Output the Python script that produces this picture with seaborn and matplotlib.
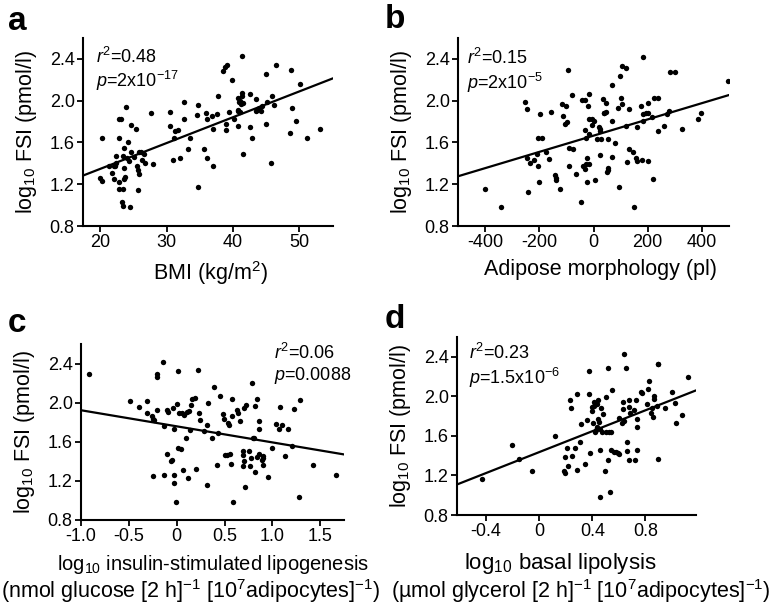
import matplotlib
matplotlib.use("Agg")
import matplotlib.pyplot as plt
import seaborn as sns
import pandas as pd

# ---------------- data ----------------
# Panel a: BMI vs log10 FSI
a_bmi = [20.0, 20.25, 20.25, 21.26, 21.76, 22.01, 22.01, 22.26, 22.36, 22.41, 22.76, 22.76, 22.86, 22.86,
         23.12, 23.27, 23.37, 23.42, 23.42, 23.52, 23.52, 23.62, 23.77, 23.87, 24.02, 24.12, 24.27, 24.52,
         24.62, 24.67, 25.03, 25.43, 25.53, 25.63, 25.68, 25.78, 25.83, 26.13, 26.28, 26.53, 26.68, 27.64,
         27.94, 30.45, 30.45, 30.95, 31.16, 31.31, 31.71, 31.96, 32.66, 32.66, 33.17, 33.57, 34.57, 34.67,
         34.77, 35.58, 35.88, 36.08, 36.08, 36.83, 36.93, 36.98, 37.59, 37.69, 38.49, 38.74, 38.94, 38.94,
         39.10, 39.35, 39.90, 40.10, 40.70, 40.70, 40.75, 40.75, 40.85, 41.01, 41.11, 41.21, 41.31, 41.36,
         41.41, 41.46, 41.56, 42.51, 42.56, 42.96, 43.42, 43.47, 43.62, 43.87, 44.22, 44.37, 44.97, 45.03,
         45.13, 45.68, 45.88, 46.13, 46.48, 48.64, 48.79, 48.99, 49.45, 50.05, 51.16, 53.12]
a_fsi = [1.26, 1.23, 1.64, 1.37, 1.31, 1.37, 1.25, 1.37, 1.47, 1.40, 1.82, 1.64, 1.22, 1.15,
         1.82, 1.03, 0.99, 1.15, 1.47, 1.55, 1.25, 1.36, 1.27, 1.94, 1.45, 1.60, 1.42, 0.98,
         1.51, 1.77, 1.46, 1.73, 1.37, 1.14, 1.34, 1.30, 1.51, 1.51, 1.43, 1.49, 1.40, 1.88,
         1.39, 1.89, 1.76, 1.43, 1.64, 1.71, 1.72, 1.45, 1.99, 1.82, 1.54, 1.64, 1.86, 1.96,
         1.17, 1.54, 1.88, 1.82, 1.45, 1.85, 1.37, 1.73, 1.87, 2.04, 2.28, 2.32, 1.72, 1.78,
         2.34, 1.89, 2.20, 1.82, 1.76, 1.90, 1.91, 2.03, 1.99, 2.00, 1.89, 1.97, 2.04, 2.43,
         2.07, 1.98, 1.49, 2.06, 1.75, 1.64, 2.02, 1.90, 1.91, 1.93, 1.90, 1.95, 2.26, 1.78,
         1.99, 1.40, 2.04, 1.96, 2.34, 1.69, 2.29, 1.93, 1.81, 2.16, 1.64, 1.73]

# Panel b: adipose morphology vs log10 FSI
b_morph = [-401, -340, -254, -245, -245, -243, -236, -218, -209, -205, -201, -205, -196, -189, -175,
           -164, -157, -141, -139, -139, -123, -118, -113, -104, -102, -98, -93, -92, -92, -74, -79,
           -63, -45, -43, -37, -32, -33, -31, -29, -27, -25, -23, -21, -18, -18, -18, -15, -6, -6,
           2, 6, 13, 22, 23, 25, 25, 29, 34, 37, 39, 45, 45, 49, 53, 55, 55, 69, 69, 70, 81, 92, 94,
           98, 103, 104, 107, 119, 121, 123, 131, 131, 147, 150, 161, 158, 160, 177, 183, 184, 179,
           183, 193, 200, 202, 202, 216, 218, 222, 239, 239, 261, 270, 279, 282, 301, 326, 384, 398, 497]
b_fsi = [1.15, 0.98, 1.99, 1.92, 1.45, 1.13, 1.40, 1.43, 1.49, 1.37, 1.22, 1.64, 1.87, 1.64, 1.51,
         1.44, 1.89, 1.29, 1.26, 1.24, 1.15, 1.97, 1.85, 1.78, 1.95, 1.80, 2.29, 1.37, 1.55, 1.54, 2.05,
         1.30, 1.03, 2.01, 1.37, 2.01, 1.72, 1.35, 1.64, 1.39, 1.45, 1.22, 1.95, 2.06, 1.39, 1.68, 1.82, 1.82, 1.77,
         1.81, 1.24, 1.63, 1.75, 1.73, 1.71, 1.48, 1.63, 2.02, 1.88, 1.88, 1.89, 1.98, 1.32, 1.34, 1.63, 1.36,
         1.81, 1.46, 2.15, 1.59, 1.93, 1.17, 2.24, 2.03, 2.33, 1.97, 2.31, 1.76, 1.41, 1.92, 1.54, 1.51, 0.98,
         1.75, 1.45, 1.42, 1.95, 2.42, 1.87, 1.43, 1.81, 1.88, 1.88, 1.98, 1.42, 1.84, 1.25, 2.03, 2.03, 1.71,
         1.76, 1.87, 1.90, 2.27, 2.27, 1.73, 1.82, 1.88, 2.19]

# Panel c: log10 insulin-stimulated lipogenesis vs log10 FSI
c_lipo = [-0.913, -0.493, -0.392, -0.306, -0.306, -0.260, -0.247, -0.243, -0.233, -0.208, -0.208, -0.208,
          -0.139, -0.132, -0.128, -0.104, -0.097, -0.087, -0.059, -0.049, -0.038, -0.031, -0.024, -0.024,
          -0.007, 0.007, 0.017, 0.017, 0.024, 0.042, 0.059, 0.069, 0.076, 0.094, 0.104, 0.115, 0.125, 0.135,
          0.146, 0.160, 0.191, 0.201, 0.226, 0.236, 0.240, 0.285, 0.316, 0.326, 0.319, 0.372, 0.392, 0.417,
          0.434, 0.451, 0.486, 0.497, 0.500, 0.521, 0.538, 0.545, 0.559, 0.563, 0.580, 0.573, 0.587, 0.625,
          0.639, 0.660, 0.688, 0.688, 0.694, 0.701, 0.705, 0.708, 0.726, 0.750, 0.764, 0.774, 0.792, 0.788,
          0.806, 0.816, 0.816, 0.837, 0.840, 0.854, 0.854, 0.861, 0.892, 0.896, 0.903, 0.906, 0.948, 0.997,
          1.038, 1.076, 1.066, 1.097, 1.132, 1.163, 1.205, 1.222, 1.278, 1.292, 1.424, 1.660]
c_fsi = [2.29, 2.02, 1.96, 2.02, 1.89, 1.86, 1.83, 1.25, 1.82, 2.29, 2.26, 1.93,
         2.42, 1.76, 1.26, 1.48, 1.93, 1.90, 1.40, 1.41, 1.95, 1.18, 1.73, 1.26,
         0.98, 1.99, 2.32, 1.54, 1.89, 1.53, 1.89, 1.31, 1.87, 1.64, 1.90, 1.23, 1.91, 1.72,
         1.98, 2.04, 2.05, 1.32, 2.33, 1.89, 1.82, 1.71, 1.16, 2.00, 1.77, 1.64, 2.16, 1.36,
         1.69, 2.07, 1.88, 1.83, 1.46, 1.46, 1.79, 1.77, 1.47, 1.37, 2.04, 1.86, 0.98, 1.92,
         1.89, 1.81, 1.51, 1.46, 1.35, 1.40, 1.95, 1.14, 1.98, 1.51, 1.35, 1.43, 1.64, 2.20,
         1.64, 1.97, 1.29, 2.04, 1.44, 1.81, 1.73, 1.48, 1.41, 1.36, 1.45, 1.43, 1.24, 1.54,
         1.78, 1.96, 1.73, 1.77, 1.45, 1.73, 1.56, 1.94, 1.04, 2.03, 1.36, 1.26]

# Panel d: log10 basal lipolysis vs log10 FSI
d_lipol = [-0.428, -0.206, -0.153, -0.058, 0.121, 0.186, 0.191, 0.196, 0.211, 0.214, 0.231, 0.236, 0.249,
           0.269, 0.284, 0.287, 0.304, 0.312, 0.345, 0.357, 0.372, 0.375, 0.382, 0.395, 0.400, 0.408, 0.413,
           0.415, 0.423, 0.425, 0.433, 0.438, 0.440, 0.445, 0.450, 0.455, 0.458, 0.460, 0.468, 0.476, 0.483,
           0.493, 0.501, 0.506, 0.516, 0.518, 0.526, 0.531, 0.538, 0.541, 0.546, 0.564, 0.579, 0.591, 0.601,
           0.604, 0.621, 0.629, 0.629, 0.637, 0.642, 0.654, 0.659, 0.664, 0.677, 0.679, 0.679, 0.684, 0.717,
           0.725, 0.730, 0.735, 0.737, 0.740, 0.770, 0.775, 0.810, 0.818, 0.830, 0.845, 0.850, 0.855, 0.868,
           0.868, 0.886, 0.893, 0.898, 0.898, 0.949, 1.004, 1.021, 1.034, 1.074, 1.122]
d_fsi = [1.16, 1.51, 1.37, 1.24, 1.60, 1.24, 1.22, 1.39, 1.48, 1.30, 1.96, 1.88, 1.40,
         1.48, 1.26, 2.02, 1.54, 1.72, 1.32, 1.76, 2.02, 2.26, 1.43, 1.85, 1.89, 1.73, 1.90,
         1.94, 1.64, 1.66, 1.92, 1.69, 1.77, 1.96, 1.74, 1.67, 1.46, 0.98, 1.88, 1.64, 1.82,
         1.24, 1.99, 1.64, 1.36, 2.29, 1.64, 1.03, 1.46, 1.64, 2.06, 1.44, 1.44, 1.43, 1.42,
         1.78, 1.73, 1.87, 1.94, 1.75, 2.43, 2.29, 1.45, 1.54, 1.96, 1.89, 1.36, 1.83, 1.86,
         1.36, 1.96, 1.69, 1.77, 1.46, 2.04, 2.03, 1.92, 2.07, 2.16, 1.83, 1.88, 1.79, 2.00,
         1.97, 1.90, 2.33, 2.33, 1.37, 1.88, 2.04, 1.93, 1.73, 1.81, 2.20]

# Regression lines (slope, intercept) as drawn in the figure
fit_a = (0.0247, 0.853)
fit_b = (0.000778, 1.665)
fit_c = (-0.1645, 1.758)
fit_d = (0.528, 1.436)

# Statistics annotations
stats_a = ("0.48", "2x10$^{-17}$")
stats_b = ("0.15", "2x10$^{-5}$")
stats_c = ("0.06", "0.0088")
stats_d = ("0.23", "1.5x10$^{-6}$")

# Tick values / labels
y_ticks = [0.8, 1.2, 1.6, 2.0, 2.4]
y_ticklabels = ["0.8", "1.2", "1.6", "2.0", "2.4"]
a_xticks = [20, 30, 40, 50]
a_xticklabels = ["20", "30", "40", "50"]
b_xticks = [-400, -200, 0, 200, 400]
b_xticklabels = ["-400", "-200", "0", "200", "400"]
c_xticks = [-1.0, -0.5, 0, 0.5, 1.0, 1.5]
c_xticklabels = ["-1.0", "-0.5", "0", "0.5", "1.0", "1.5"]
d_xticks = [-0.4, 0, 0.4, 0.8]
d_xticklabels = ["-0.4", "0", "0.4", "0.8"]

ylabel = "log$_{10}$ FSI (pmol/l)"
a_xlabel = ["BMI (kg/m$^{2}$)"]
b_xlabel = ["Adipose morphology (pl)"]
c_xlabel = ["log$_{10}$ insulin-stimulated lipogenesis",
            "(nmol glucose [2 h]$^{-1}$ [10$^{7}$adipocytes]$^{-1}$)"]
d_xlabel = ["log$_{10}$ basal lipolysis",
            "(µmol glycerol [2 h]$^{-1}$ [10$^{7}$adipocytes]$^{-1}$)"]

# ---------------- style ----------------
sns.set_style("ticks")
plt.rcParams.update({
    "font.family": ["Liberation Sans", "DejaVu Sans"],
    "mathtext.fontset": "custom",
    "mathtext.rm": "Liberation Sans",
    "mathtext.it": "Liberation Sans:italic",
    "mathtext.default": "regular",
    "axes.unicode_minus": False,
    "axes.linewidth": 1.5,
    "xtick.major.width": 1.3,
    "ytick.major.width": 1.3,
    "xtick.major.size": 4,
    "ytick.major.size": 4,
    "xtick.major.pad": 2,
    "ytick.major.pad": 2,
    "xtick.labelsize": 13,
    "ytick.labelsize": 13,
    "axes.labelsize": 15.5,
    "text.color": "black",
    "axes.labelcolor": "black",
    "xtick.color": "black",
    "ytick.color": "black",
    "axes.edgecolor": "black",
})

W, H = 776, 607
fig = plt.figure(figsize=(W / 100, H / 100), dpi=100)

def rect(l, t, r, b):
    return [l / W, 1 - b / H, (r - l) / W, (b - t) / H]

# label lines: (text, center x px, center y px, fontsize)
panels = [
    dict(letter="a", rect=rect(83, 38, 333, 226), x=a_bmi, y=a_fsi, fit=fit_a, xlim=(17.4, 55.1),
         xticks=a_xticks, xtl=a_xticklabels, stats=stats_a, tx=0.05, ty=0.955, letter_xy=(8, 6),
         xl=[(a_xlabel[0], 210, 273, 15.5)]),
    dict(letter="b", rect=rect(458, 38, 729, 226), x=b_morph, y=b_fsi, fit=fit_b, xlim=(-500, 500),
         xticks=b_xticks, xtl=b_xticklabels, stats=stats_b, tx=0.035, ty=0.945, letter_xy=(385, 4),
         xl=[(b_xlabel[0], 600, 270, 15.5)]),
    dict(letter="c", rect=rect(81, 344, 344, 520), x=c_lipo, y=c_fsi, fit=fit_c, xlim=(-1.0, 1.747),
         xticks=c_xticks, xtl=c_xticklabels, stats=stats_c, tx=0.735, ty=1.005, letter_xy=(8, 308),
         xl=[(c_xlabel[0], 213, 564, 14.5), (c_xlabel[1], 191, 591, 15.5)]),
    dict(letter="d", rect=rect(457, 337, 696, 515), x=d_lipol, y=d_fsi, fit=fit_d, xlim=(-0.62, 1.182),
         xticks=d_xticks, xtl=d_xticklabels, stats=stats_d, tx=0.05, ty=0.965, letter_xy=(385, 304),
         xl=[(d_xlabel[0], 560, 564, 16), (d_xlabel[1], 581, 591, 15.5)]),
]

for p in panels:
    ax = fig.add_axes(p["rect"])
    df = pd.DataFrame({"x": p["x"], "y": p["y"]})
    sns.scatterplot(data=df, x="x", y="y", ax=ax, color="black", s=15, linewidth=0, zorder=3)
    slope, intercept = p["fit"]
    x0, x1 = p["xlim"]
    line = pd.DataFrame({"x": [x0, x1], "y": [intercept + slope * x0, intercept + slope * x1]})
    sns.lineplot(data=line, x="x", y="y", ax=ax, color="black", linewidth=1.6, zorder=2)
    ax.set_xlim(x0, x1)
    ax.set_ylim(0.8, 2.6)
    ax.set_xticks(p["xticks"])
    ax.set_xticklabels(p["xtl"])
    ax.set_yticks(y_ticks)
    ax.set_yticklabels(y_ticklabels)
    ax.set_xlabel("")
    ax.set_ylabel(ylabel, labelpad=8)
    sns.despine(ax=ax)
    for txt, cx, cy, fs in p["xl"]:
        fig.text(cx / W, 1 - cy / H, txt, ha="center", va="center", fontsize=fs)
    r2, pv = p["stats"]
    ax.text(p["tx"], p["ty"], "$\\mathit{r}^{2}$=" + r2 + "\n$\\mathit{p}$=" + pv, transform=ax.transAxes,
            ha="left", va="top", fontsize=13, linespacing=1.15, clip_on=False)
    lx, ly = p["letter_xy"]
    fig.text(lx / W, 1 - ly / H, p["letter"], fontsize=24, fontweight="bold", ha="left", va="top")

fig.savefig("out.png", dpi=100)
